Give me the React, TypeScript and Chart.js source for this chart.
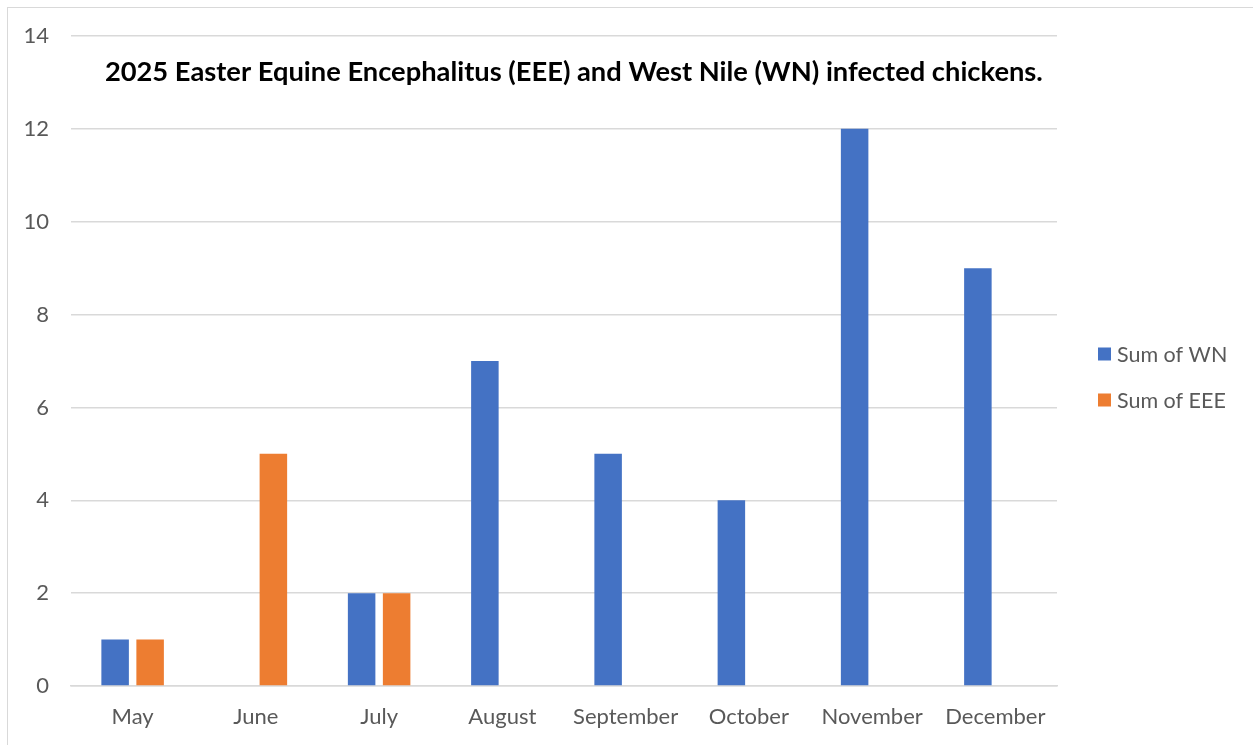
import React, { useEffect, useRef } from "react";
import { Chart, registerables } from "chart.js";

Chart.register(...registerables);

const months = ["May", "June", "July", "August", "September", "October", "November", "December"];
const sumWN = [1, null, 2, 7, 5, 4, 12, 9];
const sumEEE = [1, 5, 2, null, null, null, null, null];
const yTicks = [0, 2, 4, 6, 8, 10, 12, 14];
const titleText = "2025 Easter Equine Encephalitus (EEE) and West Nile (WN) infected chickens.";

const FONT = "Lato, 'Open Sans', sans-serif";

const titlePlugin = {
  id: "overlayTitle",
  afterDraw(chart: any) {
    const { ctx, chartArea } = chart;
    ctx.save();
    ctx.font = `bold 27.3px ${FONT}`;
    ctx.fillStyle = "#000000";
    ctx.textAlign = "center";
    ctx.textBaseline = "middle";
    ctx.fillText(titleText, chartArea.left + chartArea.width * 0.51, chartArea.top + 36);
    ctx.restore();
  },
};

const sideLegendPlugin = {
  id: "sideLegend",
  afterDraw(chart: any) {
    const { ctx, chartArea } = chart;
    const mid = (chartArea.top + chartArea.bottom) / 2 + 16;
    const step = 46;
    const ds = chart.data.datasets;
    ctx.save();
    ctx.font = `21.5px ${FONT}`;
    ctx.textAlign = "left";
    ctx.textBaseline = "middle";
    ds.forEach((d: any, i: number) => {
      const cy = mid + (i - (ds.length - 1) / 2) * step;
      const x = chartArea.right + 41;
      ctx.fillStyle = d.backgroundColor;
      ctx.fillRect(x, cy - 6.5, 13, 13);
      ctx.fillStyle = "#595959";
      ctx.fillText(d.label, x + 19, cy + 1);
    });
    ctx.restore();
  },
};

export default function App() {
  const ref = useRef<HTMLCanvasElement | null>(null);
  useEffect(() => {
    if (!ref.current) return;
    const chart = new Chart(ref.current, {
      type: "bar",
      data: {
        labels: months,
        datasets: [
          { label: "Sum of WN", data: sumWN, backgroundColor: "#4472C4", borderWidth: 0 },
          { label: "Sum of EEE", data: sumEEE, backgroundColor: "#ED7D31", borderWidth: 0 },
        ],
      },
      options: {
        animation: false,
        responsive: false,
        maintainAspectRatio: false,
        layout: { padding: { top: 28, right: 196, bottom: 0, left: 0 } },
        datasets: {
          bar: { categoryPercentage: 0.568, barPercentage: 0.786 },
        },
        scales: {
          x: {
            grid: { display: false, drawTicks: false },
            border: { display: true, color: "#d9d9d9", width: 1.5 },
            ticks: { color: "#595959", font: { family: FONT, size: 22 }, padding: 18, maxRotation: 0 },
            afterFit: (s: any) => { s.height = 59; },
          },
          y: {
            min: 0,
            max: 14,
            afterBuildTicks: (s: any) => { s.ticks = yTicks.map((v) => ({ value: v })); },
            grid: { color: "#d9d9d9", lineWidth: 1.5, drawTicks: false },
            border: { display: false },
            ticks: { color: "#595959", font: { family: FONT, size: 22 }, padding: 22 },
            afterFit: (s: any) => { s.width = 63; s.paddingTop = 0; s.paddingBottom = 0; },
          },
        },
        plugins: {
          legend: { display: false },
          tooltip: { enabled: false },
          title: { display: false },
        },
      },
      plugins: [titlePlugin, sideLegendPlugin],
    });
    return () => chart.destroy();
  }, []);
  return (
    <div style={{ position: "absolute", left: 0, top: 0, width: 1253, height: 745, background: "#fff", overflow: "hidden" }}>
      <div style={{ position: "absolute", left: 7, top: 7, width: 1246, height: 738, borderTop: "1px solid #d9d9d9", borderLeft: "1px solid #d9d9d9", boxSizing: "border-box" }}>
        <canvas ref={ref} width={1245} height={737} style={{ display: "block" }} />
      </div>
    </div>
  );
}
